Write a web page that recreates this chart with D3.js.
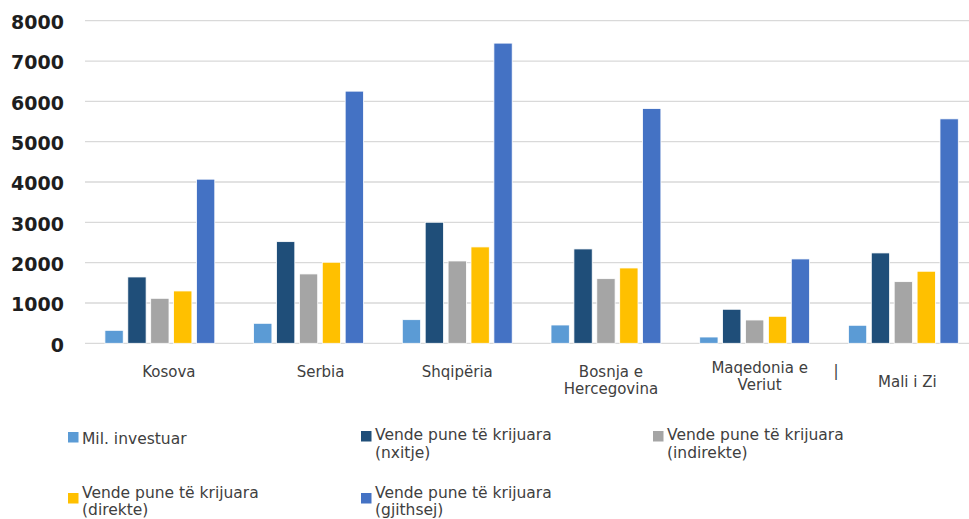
<!DOCTYPE html>
<html>
<head>
<meta charset="utf-8">
<script src="https://cdn.jsdelivr.net/npm/d3@7"></script>
<style>
  html, body { margin: 0; padding: 0; background: #ffffff; }
  svg { display: block; }
</style>
</head>
<body>
<svg id="chart" width="969" height="519"></svg>
<script>
// ---------- data ----------
const categories = ["Kosova", "Serbia", "Shqipëria", "Bosnja e Hercegovina", "Maqedonia e Veriut", "Mali i Zi"];
const categoryLines = [["Kosova"], ["Serbia"], ["Shqipëria"], ["Bosnja e", "Hercegovina"], ["Maqedonia e", "Veriut"], ["Mali i Zi"]];
const seriesNames = [
  "Mil. investuar",
  "Vende pune të krijuara (nxitje)",
  "Vende pune të krijuara (indirekte)",
  "Vende pune të krijuara (direkte)",
  "Vende pune të krijuara (gjithsej)"
];
const legendLines = [
  ["Mil. investuar"],
  ["Vende pune të krijuara", "(nxitje)"],
  ["Vende pune të krijuara", "(indirekte)"],
  ["Vende pune të krijuara", "(direkte)"],
  ["Vende pune të krijuara", "(gjithsej)"]
];
const milInvestuar = [322, 496, 586, 454, 156, 447];
const nxitje       = [1645, 2521, 3002, 2340, 844, 2241];
const indirekte    = [1116, 1720, 2042, 1603, 578, 1529];
const direkte      = [1298, 2010, 2390, 1868, 670, 1787];
const gjithsej     = [4070, 6253, 7444, 5821, 2092, 5566];
const yTicks = [0, 1000, 2000, 3000, 4000, 5000, 6000, 7000, 8000];

// ---------- styles / layout ----------
const colors = ["#5B9BD5", "#1F4E79", "#A5A5A5", "#FFC000", "#4472C4"];
const labelDx = [9, 12, 0, 5, 5, 4];       // label nudges as in the reference
const labelDy = [0, 0, 0, 0, -4, 10];
const legendPos = [[68, 432], [361, 431], [653, 431], [68, 493], [361, 493]];
const legendTextY = [444, 440, 440, 497.5, 497.5];

const seriesValues = [milInvestuar, nxitje, indirekte, direkte, gjithsej];
const data = categories.map((c, i) => ({
  cat: c, lines: categoryLines[i], i,
  vals: seriesNames.map((s, k) => ({ s, k, v: seriesValues[k][i] }))
}));

const svg = d3.select("#chart");
const W = 969;
const y = d3.scaleLinear().domain([0, 8000]).range([343.3, 20.7]);
const x0 = d3.scaleBand().domain(categories).range([85.5, 977.7]).paddingInner(0.261).paddingOuter(0.1305);
const x1 = d3.scaleBand().domain(seriesNames).range([0, x0.bandwidth()]).paddingInner(0.2).paddingOuter(0);

// gridlines
svg.append("g").selectAll("line").data(yTicks).join("line")
  .attr("x1", 85).attr("x2", W)
  .attr("y1", d => y(d)).attr("y2", d => y(d))
  .attr("stroke", "#d9d9d9").attr("stroke-width", 1.3);

// y axis labels
const yAxis = d3.axisLeft(y).tickValues(yTicks).tickSize(0).tickPadding(0).tickFormat(d3.format("d"));
const yg = svg.append("g").attr("transform", "translate(64,0)").call(yAxis);
yg.select(".domain").remove();
yg.selectAll("text")
  .attr("font-family", "DejaVu Sans, sans-serif")
  .attr("font-weight", "bold")
  .attr("font-size", 19)
  .attr("fill", "#1e1e1e")
  .attr("dy", "0.36em")
  .attr("transform", "translate(0,1)");

// bars
const groups = svg.append("g").selectAll("g").data(data).join("g")
  .attr("transform", d => `translate(${x0(d.cat)},0)`);
groups.selectAll("rect").data(d => d.vals).join("rect")
  .attr("x", d => x1(d.s))
  .attr("width", x1.bandwidth())
  .attr("y", d => y(d.v))
  .attr("height", d => y(0) - y(d.v))
  .attr("fill", d => colors[d.k])
  .attr("stroke", "#ffffff")
  .attr("stroke-width", 0.8);

// category labels
const catG = svg.append("g")
  .attr("font-family", "DejaVu Sans, sans-serif")
  .attr("font-size", 15)
  .attr("fill", "#404040")
  .attr("text-anchor", "middle");
data.forEach((d, i) => {
  const cx = x0(d.cat) + x0.bandwidth() / 2 + labelDx[i];
  const t = catG.append("text").attr("x", cx).attr("y", 376.7 + labelDy[i]);
  d.lines.forEach((ln, j) => {
    t.append("tspan").attr("x", cx).attr("dy", j === 0 ? 0 : 17).text(ln);
  });
});
// stray separator glyph present in the reference
catG.append("text").attr("x", 836).attr("y", 376).text("|");

// legend
const lg = svg.append("g")
  .attr("font-family", "DejaVu Sans, sans-serif")
  .attr("font-size", 15.5)
  .attr("fill", "#404040");
seriesNames.forEach((s, k) => {
  const [lx, ly] = legendPos[k];
  lg.append("rect").attr("x", lx).attr("y", ly).attr("width", 10.5).attr("height", 10.5).attr("fill", colors[k]);
  const t = lg.append("text").attr("x", lx + 14).attr("y", legendTextY[k]);
  legendLines[k].forEach((ln, j) => {
    t.append("tspan").attr("x", lx + 14).attr("dy", j === 0 ? 0 : 17.5).text(ln);
  });
});
</script>
</body>
</html>
